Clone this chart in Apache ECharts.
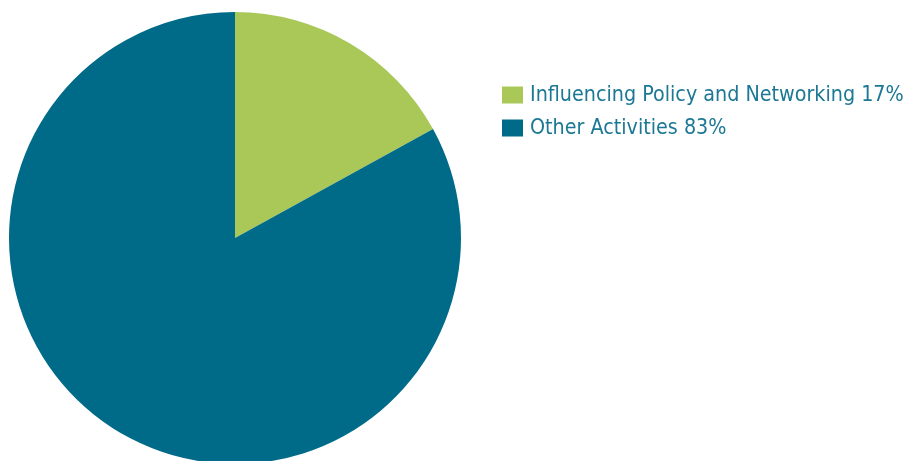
<!DOCTYPE html>
<html>
<head>
<meta charset="utf-8">
<script src="https://cdn.jsdelivr.net/npm/echarts@6/dist/echarts.min.js"></script>
<style>
  html, body { margin: 0; padding: 0; background: #ffffff; }
  #chart { width: 910px; height: 461px; }
</style>
</head>
<body>
<div id="chart"></div>
<script>
// Share of activities
const categories = ['Influencing Policy and Networking', 'Other Activities'];
const shares = [17, 83];
const colors = ['#a9c858', '#006a89'];

const chart = echarts.init(document.getElementById('chart'), null, { renderer: 'canvas' });

const data = categories.map((name, i) => ({ name, value: shares[i], itemStyle: { color: colors[i] } }));

chart.setOption({
  animation: false,
  legend: {
    orient: 'vertical',
    left: 502,
    top: 84,
    padding: 0,
    itemWidth: 21,
    itemHeight: 17,
    itemGap: 11,
    icon: 'rect',
    textStyle: {
      fontFamily: '"DejaVu Sans", sans-serif',
      fontWeight: 'condensed',
      fontSize: 21.3,
      lineHeight: 22,
      color: '#1c7894',
      padding: [0, 0, 0, 2]
    },
    formatter: function (name) {
      const i = categories.indexOf(name);
      return name + ' ' + shares[i] + '%';
    },
    data: categories
  },
  series: [{
    type: 'pie',
    center: [235, 238],
    radius: 226,
    startAngle: 90,
    clockwise: true,
    label: { show: false },
    labelLine: { show: false },
    emphasis: { disabled: true },
    itemStyle: { borderWidth: 0 },
    data: data
  }]
});
</script>
</body>
</html>
